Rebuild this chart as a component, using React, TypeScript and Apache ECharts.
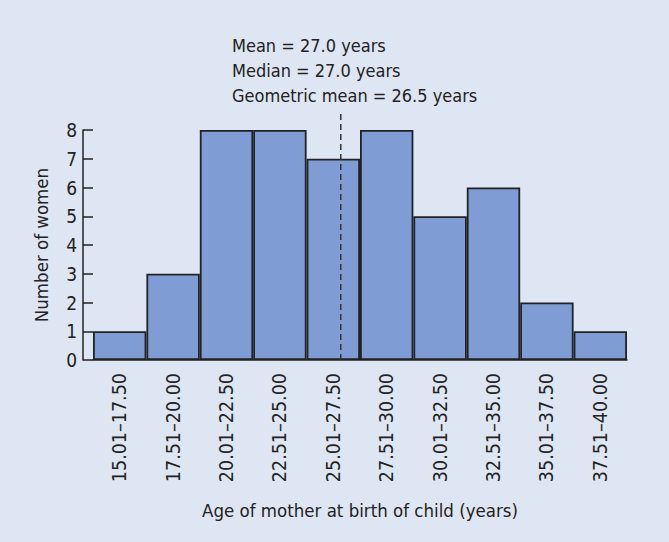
import React, { useEffect, useRef } from "react";
import * as echarts from "echarts";

const categories = [
  "15.01–17.50", "17.51–20.00", "20.01–22.50", "22.51–25.00", "25.01–27.50",
  "27.51–30.00", "30.01–32.50", "32.51–35.00", "35.01–37.50", "37.51–40.00",
];
const counts = [1, 3, 8, 8, 7, 8, 5, 6, 2, 1];
const annotationLines = [
  "Mean = 27.0 years",
  "Median = 27.0 years",
  "Geometric mean = 26.5 years",
];
const dashedLineAge = 26.6;
const dashedLineTop = 8.6;

const FONT = "'Liberation Sans Narrow', 'DejaVu Sans Condensed', 'Roboto', sans-serif";
const TEXT = "#222";

export default function App() {
  const ref = useRef<HTMLDivElement>(null);
  useEffect(() => {
    document.body.style.margin = "0";
    const chart = echarts.init(ref.current!, null, { renderer: "svg" });
    chart.setOption({
      animation: false,
      backgroundColor: "#dfe6f3",
      textStyle: { fontFamily: FONT },
      grid: { left: 93, right: 42, top: 130, bottom: 182, containLabel: false },
      xAxis: [
        {
          type: "category",
          data: categories,
          boundaryGap: true,
          axisLine: { show: true, lineStyle: { color: "#222", width: 1.5 } },
          axisTick: { show: false },
          axisLabel: {
            rotate: 90,
            margin: 13,
            fontSize: 19.5,
            color: TEXT,
            fontFamily: FONT,
            interval: 0,
          },
          name: "Age of mother at birth of child (years)",
          nameLocation: "middle",
          nameGap: 141,
          nameTextStyle: { fontSize: 18.5, color: TEXT, fontFamily: FONT },
        },
        {
          type: "value",
          min: 15,
          max: 40,
          show: false,
        },
      ],
      yAxis: {
        type: "value",
        min: 0,
        max: 8,
        interval: 1,
        offset: 10,
        splitLine: { show: false },
        axisLine: { show: true, lineStyle: { color: "#222", width: 1.5 } },
        axisTick: { show: true, inside: true, length: 10, lineStyle: { color: "#222", width: 1.5 } },
        axisLabel: { fontSize: 19, color: TEXT, margin: 6, fontFamily: FONT },
        name: "Number of women",
        nameLocation: "middle",
        nameGap: 32,
        nameTextStyle: { fontSize: 18.5, color: TEXT, fontFamily: FONT },
      },
      series: [
        {
          type: "bar",
          data: counts,
          barCategoryGap: "0%",
          itemStyle: { color: "#7f9dd4", borderColor: "#222", borderWidth: 1.8 },
        },
        {
          type: "line",
          xAxisIndex: 1,
          data: [
            [dashedLineAge, 0],
            [dashedLineAge, dashedLineTop],
          ],
          clip: false,
          symbol: "none",
          lineStyle: { color: "#333", width: 1.5, type: [6, 4] },
          z: 5,
        },
      ],
      graphic: [
        {
          type: "text",
          left: 232,
          top: 33,
          style: {
            text: annotationLines.join("\n"),
            font: `18px ${FONT}`,
            fill: TEXT,
            lineHeight: 25,
          },
        },
      ],
    });
    return () => chart.dispose();
  }, []);
  return <div ref={ref} style={{ width: 669, height: 542 }} />;
}
